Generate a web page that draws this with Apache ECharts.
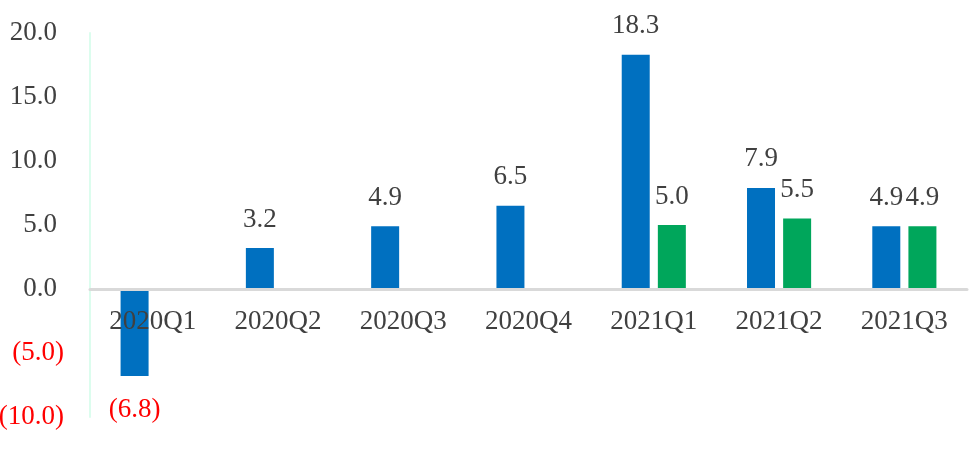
<!DOCTYPE html>
<html>
<head>
<meta charset="utf-8">
<script src="https://cdn.jsdelivr.net/npm/echarts@6/dist/echarts.min.js"></script>
<style>html,body{margin:0;padding:0;background:#fff;}#c{width:979px;height:453px;}</style>
</head>
<body>
<div id="c"></div>
<script>
const categories = ['2020Q1','2020Q2','2020Q3','2020Q4','2021Q1','2021Q2','2021Q3'];
const blueValues = [-6.8, 3.2, 4.9, 6.5, 18.3, 7.9, 4.9];
const greenValues = [null, null, null, null, 5.0, 5.5, 4.9];

const FONT = '"Liberation Serif", "Times New Roman", serif';
const FS = 27;
function fmt(v){ return v < 0 ? '(' + Math.abs(v).toFixed(1) + ')' : v.toFixed(1); }
function items(arr){
  return arr.map(v => v === null ? null : (v < 0
    ? {value: v, label: {position: 'bottom', distance: 20, color: '#FF0000'}}
    : {value: v}));
}
const labelBase = {
  show: true, position: 'top', distance: 15,
  fontFamily: FONT, fontSize: FS, color: '#404040',
  formatter: p => fmt(p.value)
};

const chart = echarts.init(document.getElementById('c'), null, {renderer: 'canvas'});
chart.setOption({
  animation: false,
  grid: {left: 90, right: 12, top: 33, bottom: 36, containLabel: false, outerBoundsMode: 'none'},
  xAxis: {
    type: 'category', data: categories,
    position: 'bottom',
    offset: -128,
    z: 5,
    axisLine: {onZero: false, lineStyle: {color: '#D9D9D9', width: 3}},
    axisTick: {show: false},
    axisLabel: {fontFamily: FONT, fontSize: FS, color: '#404040', margin: 19}
  },
  yAxis: {
    type: 'value', min: -10, max: 20, interval: 5,
    splitLine: {show: false},
    axisLine: {show: true, lineStyle: {color: '#DCFDEE', width: 2}},
    axisTick: {show: false},
    axisLabel: {
      margin: 26, fontFamily: FONT, fontSize: FS,
      formatter: v => v < 0 ? '{neg|' + fmt(v) + '}' : '{pos|' + fmt(v) + '}',
      rich: {
        pos: {fontFamily: FONT, fontSize: FS, color: '#404040', padding: [0, 7, 0, 0]},
        neg: {fontFamily: FONT, fontSize: FS, color: '#FF0000'}
      }
    }
  },
  series: [
    {type: 'bar', data: items(blueValues), barWidth: 28, barGap: '29%',
     itemStyle: {color: '#0070C0'}, label: labelBase},
    {type: 'bar', data: items(greenValues), barWidth: 28, barGap: '29%',
     itemStyle: {color: '#00A65B'}, label: labelBase}
  ]
});
</script>
</body>
</html>
